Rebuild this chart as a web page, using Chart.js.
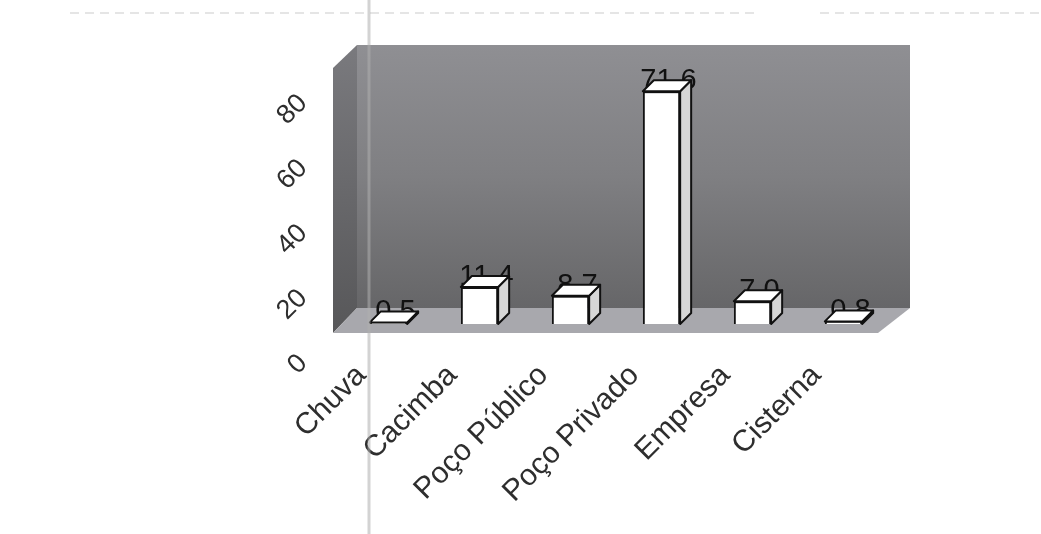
<!DOCTYPE html>
<html>
<head>
<meta charset="utf-8">
<script src="https://cdn.jsdelivr.net/npm/chart.js@4/dist/chart.umd.min.js"></script>
<style>
  html, body { margin: 0; padding: 0; background: #ffffff; }
  #wrap { width: 1041px; height: 534px; }
</style>
</head>
<body>
<div id="wrap"><canvas id="c" width="1041" height="534"></canvas></div>
<script>
// Water source shares (%)
const categories = ['Chuva', 'Cacimba', 'Poço Público', 'Poço Privado', 'Empresa', 'Cisterna'];
const shareValues = [0.5, 11.4, 8.7, 71.6, 7.0, 0.8];
const yTickValues = [0, 20, 40, 60, 80];

const FONT = "'Liberation Sans', Arial, sans-serif";
const DX = 11, DY = 11; // bar depth offset

// Draws the 3D box (walls, floor), bar side/top faces and value labels
const depthPlugin = {
  id: 'depth3d',
  beforeDraw(chart) {
    const { ctx, chartArea: a } = chart;
    ctx.save();
    ctx.fillStyle = '#ffffff';
    ctx.fillRect(0, 0, chart.width, chart.height);

    // faint print-through line near the top of the page
    ctx.strokeStyle = 'rgba(150,150,150,0.25)';
    ctx.lineWidth = 2;
    ctx.setLineDash([9, 6]);
    ctx.beginPath();
    ctx.moveTo(70, 13);
    ctx.lineTo(760, 13);
    ctx.moveTo(820, 13);
    ctx.lineTo(1041, 13);
    ctx.stroke();
    ctx.setLineDash([]);

    const fl = a.left - 10, fr = a.right - 11, fy = a.bottom + 9;   // floor front edge
    const bl = a.left + 14, br = a.right + 21, by = a.bottom - 16;  // floor back edge
    const top = a.top - 19;

    // back wall
    const g = ctx.createLinearGradient(0, top, 0, by);
    g.addColorStop(0, '#8f8f93');
    g.addColorStop(0.5, '#7f7f82');
    g.addColorStop(1, '#666668');
    ctx.fillStyle = g;
    ctx.fillRect(bl, top, br - bl, by - top);

    // left side wall
    const g2 = ctx.createLinearGradient(0, top, 0, fy);
    g2.addColorStop(0, '#7a7a7e');
    g2.addColorStop(1, '#575759');
    ctx.fillStyle = g2;
    ctx.beginPath();
    ctx.moveTo(fl, a.top + 4);
    ctx.lineTo(bl, top);
    ctx.lineTo(bl, by);
    ctx.lineTo(fl, fy);
    ctx.closePath();
    ctx.fill();

    // floor
    ctx.fillStyle = '#a8a8ad';
    ctx.beginPath();
    ctx.moveTo(fl, fy);
    ctx.lineTo(bl, by);
    ctx.lineTo(br, by);
    ctx.lineTo(fr, fy);
    ctx.closePath();
    ctx.fill();
    ctx.restore();
  },
  beforeDatasetsDraw(chart) {
    const { ctx } = chart;
    const meta = chart.getDatasetMeta(0);
    ctx.save();
    ctx.fillStyle = '#111111';
    ctx.font = `29px ${FONT}`;
    ctx.textAlign = 'center';
    ctx.textBaseline = 'alphabetic';
    meta.data.forEach((bar, i) => {
      const { x, y } = bar.getProps(['x', 'y'], true);
      ctx.fillText(shareValues[i].toFixed(1), x + 7, y - 2);
    });
    ctx.restore();
  },
  afterDatasetsDraw(chart) {
    const { ctx } = chart;
    const meta = chart.getDatasetMeta(0);
    ctx.save();
    ctx.lineWidth = 2;
    ctx.strokeStyle = '#111111';
    ctx.lineJoin = 'round';
    meta.data.forEach((bar) => {
      const { x, y, base, width } = bar.getProps(['x', 'y', 'base', 'width'], true);
      const l = x - width / 2, r = x + width / 2;
      // right face
      ctx.fillStyle = '#d6d6d6';
      ctx.beginPath();
      ctx.moveTo(r, base);
      ctx.lineTo(r + DX, base - DY);
      ctx.lineTo(r + DX, y - DY);
      ctx.lineTo(r, y);
      ctx.closePath();
      ctx.fill();
      ctx.stroke();
      // top face
      ctx.fillStyle = '#ffffff';
      ctx.beginPath();
      ctx.moveTo(l, y);
      ctx.lineTo(l + DX, y - DY);
      ctx.lineTo(r + DX, y - DY);
      ctx.lineTo(r, y);
      ctx.closePath();
      ctx.fill();
      ctx.stroke();
    });
    ctx.restore();
  },
  afterDraw(chart) {
    const { ctx } = chart;
    ctx.save();
    // paper fold line
    ctx.strokeStyle = 'rgba(175,175,175,0.55)';
    ctx.lineWidth = 3;
    ctx.beginPath();
    ctx.moveTo(369, 0);
    ctx.lineTo(369, chart.height);
    ctx.stroke();
    ctx.restore();
  }
};

new Chart(document.getElementById('c'), {
  type: 'bar',
  data: {
    labels: categories,
    datasets: [{
      data: shareValues,
      backgroundColor: '#ffffff',
      borderColor: '#111111',
      borderWidth: 2,
      barPercentage: 0.41,
      categoryPercentage: 1
    }]
  },
  options: {
    responsive: false,
    animation: false,
    devicePixelRatio: 1,
    layout: { padding: { top: 64, right: 152, left: 0, bottom: 0 } },
    plugins: { legend: { display: false }, tooltip: { enabled: false } },
    scales: {
      x: {
        type: 'category',
        offset: true,
        grid: { display: false, drawTicks: false },
        border: { display: false },
        afterFit: (s) => { s.height = 210; },
        ticks: {
          autoSkip: false,
          minRotation: 45,
          maxRotation: 45,
          padding: 34,
          labelOffset: -27,
          color: '#2e2e2e',
          font: { family: FONT, size: 30 }
        }
      },
      y: {
        min: 0,
        max: 80,
        afterBuildTicks: (s) => { s.ticks = yTickValues.map((v) => ({ value: v })); },
        afterFit: (s) => { s.width = 343; },
        grid: { display: false, drawTicks: false },
        border: { display: false },
        ticks: {
          minRotation: 45,
          maxRotation: 45,
          padding: 40,
          labelOffset: 35,
          color: '#2e2e2e',
          font: { family: FONT, size: 27 }
        }
      }
    }
  },
  plugins: [depthPlugin]
});
</script>
</body>
</html>
